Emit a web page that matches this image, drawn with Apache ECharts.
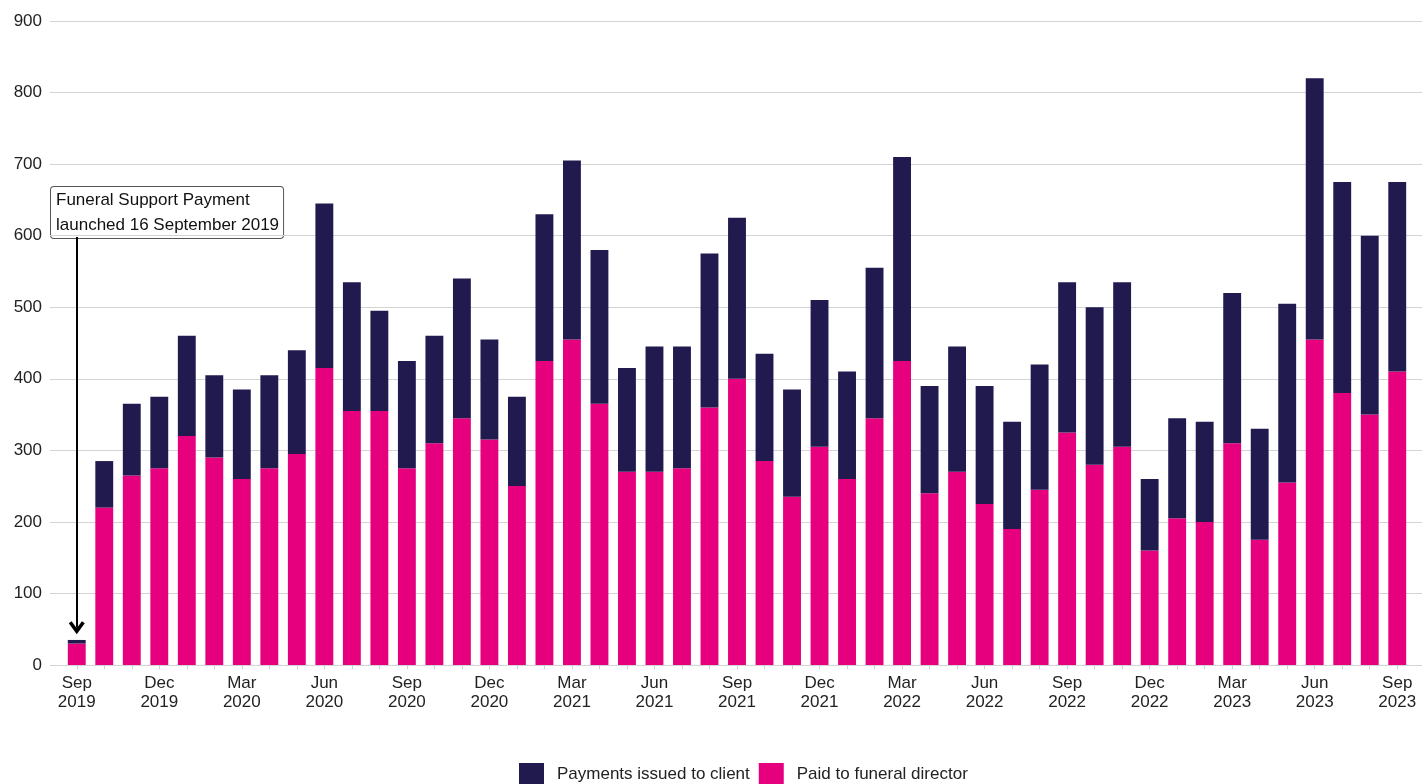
<!DOCTYPE html>
<html>
<head>
<meta charset="utf-8">
<script src="https://cdn.jsdelivr.net/npm/echarts@6/dist/echarts.min.js"></script>
<style>
	html, body { margin: 0; padding: 0; background: #fff; }
	#main { width: 1428px; height: 784px; }
</style>
</head>
<body>
<div id="main"></div>
<script>
var months = [
	'Sep\n2019', 'Oct\n2019', 'Nov\n2019', 'Dec\n2019',
	'Jan\n2020', 'Feb\n2020', 'Mar\n2020', 'Apr\n2020', 'May\n2020', 'Jun\n2020', 'Jul\n2020', 'Aug\n2020', 'Sep\n2020', 'Oct\n2020', 'Nov\n2020', 'Dec\n2020',
	'Jan\n2021', 'Feb\n2021', 'Mar\n2021', 'Apr\n2021', 'May\n2021', 'Jun\n2021', 'Jul\n2021', 'Aug\n2021', 'Sep\n2021', 'Oct\n2021', 'Nov\n2021', 'Dec\n2021',
	'Jan\n2022', 'Feb\n2022', 'Mar\n2022', 'Apr\n2022', 'May\n2022', 'Jun\n2022', 'Jul\n2022', 'Aug\n2022', 'Sep\n2022', 'Oct\n2022', 'Nov\n2022', 'Dec\n2022',
	'Jan\n2023', 'Feb\n2023', 'Mar\n2023', 'Apr\n2023', 'May\n2023', 'Jun\n2023', 'Jul\n2023', 'Aug\n2023', 'Sep\n2023'
];

// paid to funeral director (bottom of stack)
var paidToDirector = [
	30, 220, 265, 275,
	320, 290, 260, 275, 295, 415, 355, 355, 275, 310, 345, 315,
	250, 425, 455, 365, 270, 270, 275, 360, 400, 285, 235, 305,
	260, 345, 425, 240, 270, 225, 190, 245, 325, 280, 305, 160,
	205, 200, 310, 175, 255, 455, 380, 350, 410
];

// payments issued to client (top of stack)
var issuedToClient = [
	5, 65, 100, 100,
	140, 115, 125, 130, 145, 230, 180, 140, 150, 150, 195, 140,
	125, 205, 250, 215, 145, 175, 170, 215, 225, 150, 150, 205,
	150, 210, 285, 150, 175, 165, 150, 175, 210, 220, 230, 100,
	140, 140, 210, 155, 250, 365, 295, 250, 265
];

var yTicks = [0, 100, 200, 300, 400, 500, 600, 700, 800, 900];

var annotationText = 'Funeral Support Payment\nlaunched 16 September 2019';

var chartDom = document.getElementById('main');
var myChart = echarts.init(chartDom);
var option;

var fontFamily = '"Liberation Sans", Arial, sans-serif';

// open "V" arrow head, pointing up before rotation
var chevron = 'path://M0,8.5 L5,0 L10,8.5 L8.2,10 L5,4.6 L1.8,10 Z';

option = {
	animation: false,
	textStyle: { fontFamily: fontFamily },
	grid: [
		{ left: 63, right: 17, top: 21, bottom: 119 },  // bars
		{ left: 50, right: 6, top: 21, bottom: 119 }    // gridlines + y labels
	],
	legend: {
		bottom: -6,
		left: 514,
		icon: 'rect',
		itemWidth: 25,
		itemHeight: 22,
		itemGap: 9,
		data: ['Payments issued to client', 'Paid to funeral director'],
		textStyle: { fontSize: 17, color: '#222', fontFamily: fontFamily, padding: [0, 0, 0, 8] }
	},
	xAxis: [
		{
			gridIndex: 0,
			type: 'category',
			data: months,
			axisLine: { show: false },
			axisTick: {
				show: true,
				alignWithLabel: true,
				interval: 0,
				length: 4,
				lineStyle: { color: '#cfcfcf' }
			},
			axisLabel: {
				interval: 2,
				fontSize: 17,
				color: '#222',
				lineHeight: 19,
				margin: 9
			}
		},
		{
			gridIndex: 1,
			type: 'value',
			show: false
		}
	],
	yAxis: [
		{
			gridIndex: 0,
			type: 'value',
			min: 0,
			max: 900,
			interval: 100,
			show: false
		},
		{
			gridIndex: 1,
			type: 'value',
			min: 0,
			max: 900,
			interval: 100,
			axisLine: { show: false },
			axisTick: { show: false },
			axisLabel: { fontSize: 17, color: '#222', margin: 8 },
			splitLine: { lineStyle: { color: '#d4d4d4', width: 1 } }
		}
	],
	series: [
		{
			name: 'Paid to funeral director',
			type: 'bar',
			stack: 'total',
			xAxisIndex: 0,
			yAxisIndex: 0,
			barWidth: '65%',
			itemStyle: { color: '#e6007e' },
			data: paidToDirector
		},
		{
			name: 'Payments issued to client',
			type: 'bar',
			stack: 'total',
			xAxisIndex: 0,
			yAxisIndex: 0,
			barWidth: '65%',
			itemStyle: { color: '#201a4f' },
			data: issuedToClient,
			markLine: {
				silent: true,
				symbol: ['none', chevron],
				symbolSize: [16, 13],
				label: { show: false },
				lineStyle: { color: '#000', width: 2, type: 'solid' },
				data: [
					[
						{ coord: [months[0], 598] },
						{ coord: [months[0], 52] }
					]
				]
			}
		}
	],
	graphic: [
		{
			type: 'text',
			left: 50,
			top: 186,
			style: {
				text: annotationText,
				fontSize: 17,
				lineHeight: 25,
				fill: '#111',
				fontFamily: fontFamily,
				backgroundColor: '#fff',
				borderColor: '#555',
				borderWidth: 1,
				borderRadius: 3,
				padding: [1, 4, 0, 5]
			}
		}
	]
};

option && myChart.setOption(option);

window.addEventListener('resize', function () {
	myChart.resize();
});
</script>
</body>
</html>
